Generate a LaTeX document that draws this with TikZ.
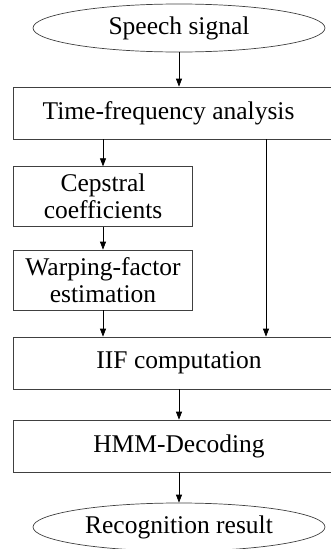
\documentclass[tikz,border=0pt]{standalone}
\usepackage{fontspec}
\setmainfont{Liberation Serif}
\usetikzlibrary{shapes.geometric,arrows.meta}
\begin{document}
\begin{tikzpicture}[x=1pt,y=1pt,
  every node/.style={font=\fontsize{25.5}{27}\selectfont, inner sep=0pt, line width=0.7pt, draw=black!75},
  term/.style={ellipse, draw, minimum width=292pt, minimum height=48pt},
  box/.style={rectangle, draw, align=center},
  arr/.style={line width=0.7pt, -{Triangle[length=8pt,width=6pt]}}]
\useasboundingbox (0,0) rectangle (331,-549);
\clip (0,0) rectangle (331,-549);
\node[term] (speech) at (179,-28) {Speech signal};
\node[box, minimum width=332pt, minimum height=52pt] (tf) at (179,-113) {Time-frequency analysis\hspace*{21pt}};
\node[box, minimum width=178.6pt, minimum height=60pt] (cep) at (103,-196.7) {Cepstral\\coefficients};
\node[box, minimum width=178.6pt, minimum height=60pt] (warp) at (103,-280) {Warping-factor\\estimation};
\node[box, minimum width=332pt, minimum height=52pt] (iif) at (179,-363) {IIF computation};
\node[box, minimum width=332pt, minimum height=52pt] (hmm) at (179,-446) {HMM-Decoding};
\node[term] (rec) at (179,-527) {Recognition result};
\coordinate (rt) at (266,-113);
\draw[arr] (speech) -- (tf);
\draw[arr] (tf.south -| cep.north) -- (cep.north);
\draw[arr] (cep) -- (warp);
\draw[arr] (warp.south) -- (warp.south |- iif.north);
\draw[arr] (rt |- tf.south) -- (rt |- iif.north);
\draw[arr] (iif) -- (hmm);
\draw[arr] (hmm) -- (rec);
\end{tikzpicture}
\end{document}
